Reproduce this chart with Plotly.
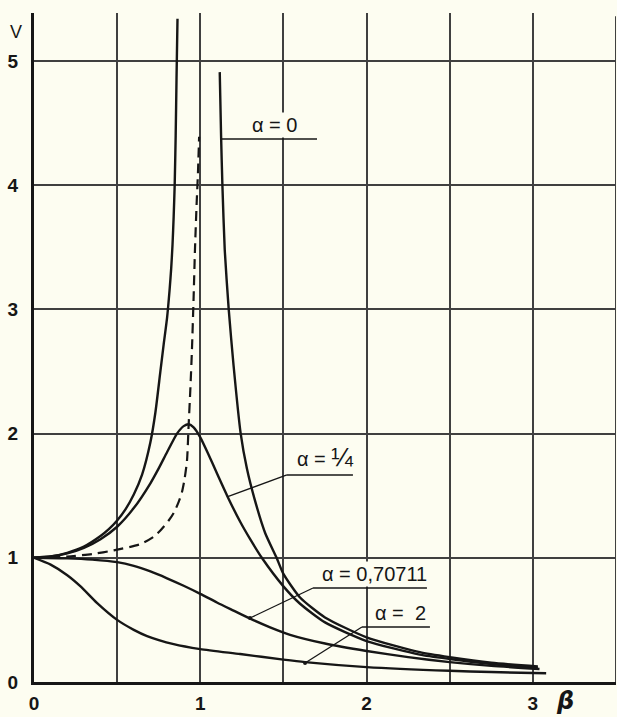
import plotly.graph_objects as go

# ---------------- data ----------------
# alpha = 0 : left branch (below resonance)
beta_a0_left = [0.0, 0.10, 0.20, 0.30, 0.40, 0.45, 0.50, 0.55, 0.60, 0.65, 0.70, 0.73,
                0.76, 0.78, 0.80, 0.815, 0.825, 0.833, 0.84, 0.846, 0.852, 0.857, 0.863]
v_a0_left = [1.0, 1.01, 1.04, 1.09, 1.175, 1.23, 1.30, 1.39, 1.51, 1.67, 1.93, 2.17,
             2.50, 2.72, 2.93, 3.15, 3.33, 3.52, 3.75, 4.0, 4.4, 4.85, 5.34]
# alpha = 0 : right branch (above resonance)
beta_a0_right = [1.117, 1.125, 1.133, 1.147, 1.171, 1.20, 1.243, 1.28, 1.327, 1.39, 1.459,
                 1.50, 1.60, 1.75, 2.0, 2.32, 2.5, 2.75, 3.03]
v_a0_right = [4.91, 4.40, 4.0, 3.48, 3.0, 2.55, 2.0, 1.72, 1.47, 1.20, 1.0,
              0.87, 0.68, 0.52, 0.36, 0.24, 0.20, 0.155, 0.125]
# alpha = 1/4
beta_a14 = [0.0, 0.10, 0.20, 0.30, 0.40, 0.50, 0.60, 0.70, 0.75, 0.80, 0.86, 0.90, 0.931,
            0.96, 1.0, 1.05, 1.10, 1.165, 1.24, 1.30, 1.37, 1.50, 1.60, 1.75, 2.0, 2.32,
            2.5, 2.75, 3.03]
v_a14 = [1.0, 1.01, 1.035, 1.08, 1.15, 1.25, 1.40, 1.60, 1.72, 1.85, 2.0, 2.06, 2.075,
         2.05, 1.97, 1.83, 1.68, 1.49, 1.29, 1.15, 1.0, 0.77, 0.63, 0.48, 0.33, 0.22,
         0.185, 0.145, 0.115]
# alpha = 0,70711
beta_a07 = [0.0, 0.20, 0.35, 0.50, 0.60, 0.70, 0.80, 0.90, 1.0, 1.10, 1.20, 1.30, 1.42,
            1.54, 1.75, 2.0, 2.25, 2.5, 2.75, 3.04]
v_a07 = [1.0, 0.995, 0.985, 0.965, 0.935, 0.89, 0.835, 0.775, 0.71, 0.64, 0.575, 0.51,
         0.44, 0.38, 0.31, 0.25, 0.20, 0.16, 0.13, 0.105]
# alpha = 2
beta_a2 = [0.0, 0.10, 0.20, 0.28, 0.38, 0.50, 0.60, 0.68, 0.84, 1.0, 1.24, 1.50, 1.63,
           2.0, 2.5, 2.75, 3.08]
v_a2 = [1.0, 0.945, 0.86, 0.77, 0.635, 0.50, 0.42, 0.37, 0.305, 0.265, 0.225, 0.18, 0.16,
        0.12, 0.09, 0.08, 0.07]
# dashed locus of the maxima
beta_peak = [0.0, 0.20, 0.35, 0.48, 0.64, 0.72, 0.76, 0.81, 0.84, 0.87, 0.89, 0.905, 0.92,
             0.93, 0.94, 0.95, 0.96, 0.968, 0.978, 0.986, 0.993]
v_peak = [1.0, 1.01, 1.03, 1.06, 1.11, 1.17, 1.22, 1.30, 1.36, 1.45, 1.53, 1.63, 1.78,
          2.07, 2.35, 2.68, 3.1, 3.48, 3.85, 4.1, 4.39]

x_tick_vals = [0, 1, 2, 3]
x_tick_text = ["0", "1", "2", "3"]
y_tick_vals = [0, 1, 2, 3, 4, 5]
y_tick_text = ["0", "1", "2", "3", "4", "5"]

# curve labels: text, point on curve (beta, V), elbow (beta, V), end of underline beta
labels = [
    ("α = 0", (1.130, 4.372), (1.130, 4.372), 1.702),
    ("α = <span style='font-size:26px'>¼</span>", (1.161, 1.490), (1.521, 1.667), 1.918),
    ("α = 0,70711", (1.299, 0.515), (1.678, 0.757), 2.363),
    ("α\u00a0=\u00a0\u00a02", (1.630, 0.153), (1.972, 0.443), 2.381),
]
label_dots = [False, False, True, True]
label_bg = [True, False, True, True]

# ---------------- styling ----------------
BG = "#fdfdf1"
INK = "#161616"
GRID = "#404040"
FONT = "Liberation Sans"

fig = go.Figure()


def curve(x, y, dash="solid", width=2.4):
    fig.add_trace(go.Scatter(
        x=x, y=y, mode="lines",
        line=dict(color=INK, width=width, dash=dash, shape="spline", smoothing=0.6),
        hoverinfo="skip"))


curve(beta_a0_left, v_a0_left)
curve(beta_a0_right, v_a0_right)
curve(beta_a14, v_a14)
curve(beta_a07, v_a07)
curve(beta_a2, v_a2)
curve(beta_peak, v_peak, dash="10px,6px", width=2.2)

shapes = []
annotations = []
for (txt, p, e, xend), dot, bg in zip(labels, label_dots, label_bg):
    if p != e:
        shapes.append(dict(type="line", xref="x", yref="y", x0=p[0], y0=p[1], x1=e[0], y1=e[1],
                           line=dict(color=INK, width=1.3)))
    shapes.append(dict(type="line", xref="x", yref="y", x0=e[0], y0=e[1], x1=xend, y1=e[1],
                       line=dict(color=INK, width=1.5)))
    annotations.append(dict(
        x=(e[0] + xend) / 2 + 0.03, y=e[1], xref="x", yref="y", text=txt, showarrow=False,
        xanchor="center", yanchor="bottom", yshift=1,
        font=dict(family=FONT, size=20, color=INK),
        bgcolor=BG if bg else "rgba(0,0,0,0)", borderpad=1))
    if dot:
        fig.add_trace(go.Scatter(x=[p[0]], y=[p[1]], mode="markers",
                                 marker=dict(color=INK, size=4), hoverinfo="skip"))

# right border line of the grid
shapes.append(dict(type="line", xref="x", yref="paper", x0=3.5, x1=3.5, y0=0, y1=0.995,
                   line=dict(color=GRID, width=2)))

annotations.append(dict(x=-0.031, y=0.972, xref="paper", yref="paper", text="V",
                        showarrow=False, xanchor="center", yanchor="middle",
                        font=dict(family=FONT, size=18, color=INK)))
annotations.append(dict(x=0.912, y=-0.028, xref="paper", yref="paper", text="<i><b>β</b></i>",
                        showarrow=False, xanchor="center", yanchor="middle",
                        font=dict(family="DejaVu Sans", size=24, color=INK)))

tickfont = dict(family=FONT, size=19, color=INK, weight="bold")

fig.update_layout(
    width=617, height=717,
    margin=dict(l=34, r=1, t=13, b=35),
    paper_bgcolor=BG, plot_bgcolor=BG,
    showlegend=False,
    shapes=shapes, annotations=annotations,
    xaxis=dict(range=[0, 3.5], tickmode="array", tickvals=x_tick_vals, ticktext=x_tick_text,
               showgrid=True, gridcolor=GRID, gridwidth=1.6,
               minor=dict(tickmode="linear", tick0=0, dtick=0.5, showgrid=True,
                          gridcolor=GRID, gridwidth=1.6),
               showline=True, linecolor=INK, linewidth=3, zeroline=False,
               ticks="", tickfont=tickfont, ticklabelstandoff=2, fixedrange=True),
    yaxis=dict(range=[0, 5.386], tickmode="array", tickvals=y_tick_vals, ticktext=y_tick_text,
               showgrid=True, gridcolor=GRID, gridwidth=1.6,
               showline=True, linecolor=INK, linewidth=3, zeroline=False,
               ticks="", tickfont=tickfont, ticklabelstandoff=9, fixedrange=True),
)

fig.write_html("out.html")
